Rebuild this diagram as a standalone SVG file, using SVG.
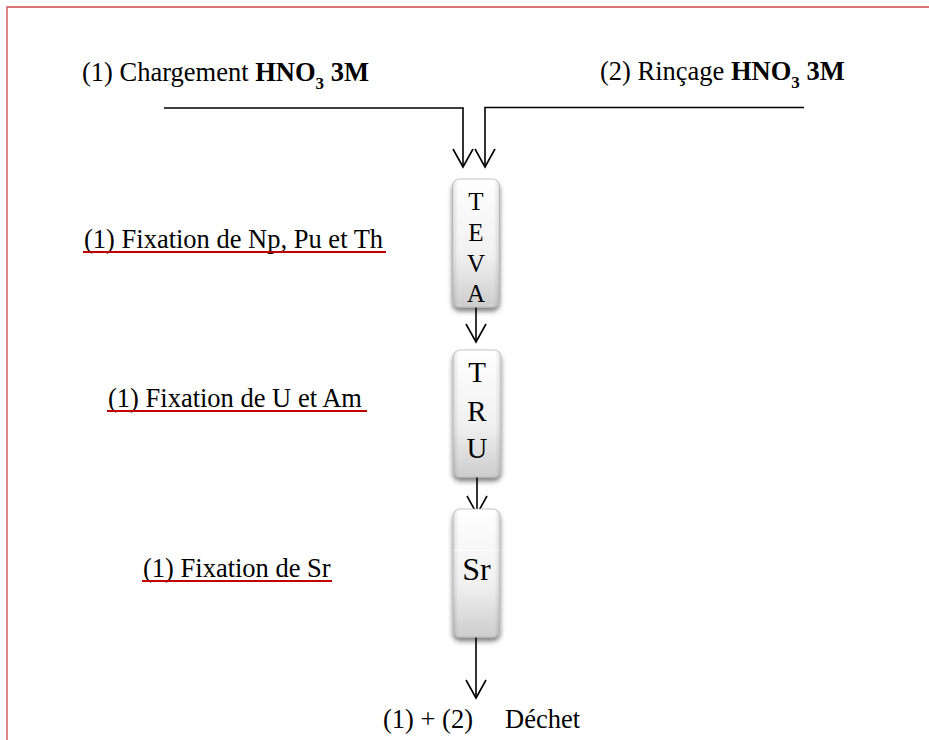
<svg xmlns="http://www.w3.org/2000/svg" width="929" height="740" viewBox="0 0 929 740">
<style>
.t{font-family:"Liberation Serif","Times New Roman",serif;fill:#000;}
.lbl{font-size:26.5px;}
.b{font-weight:bold;}
.ln{stroke:#000;stroke-width:1.6;fill:none;}
.ul{stroke:#c00000;stroke-width:2;}
.col{fill:url(#g);stroke:#b8b8b8;stroke-width:0.8;filter:url(#sh);}
.hl{fill:url(#side);}
</style>
<defs>
<linearGradient id="g" x1="0" y1="0" x2="0" y2="1">
<stop offset="0" stop-color="#ffffff"/>
<stop offset="0.6" stop-color="#f0f0f0"/>
<stop offset="1" stop-color="#cdcdcd"/>
</linearGradient>
<linearGradient id="side" x1="0" y1="0" x2="1" y2="0">
<stop offset="0" stop-color="#000" stop-opacity="0.12"/>
<stop offset="0.12" stop-color="#000" stop-opacity="0"/>
<stop offset="0.88" stop-color="#000" stop-opacity="0"/>
<stop offset="1" stop-color="#000" stop-opacity="0.12"/>
</linearGradient>
<filter id="sh" x="-30%" y="-10%" width="160%" height="125%">
<feGaussianBlur in="SourceAlpha" stdDeviation="2.5"/>
<feOffset dy="4" result="o"/>
<feComponentTransfer><feFuncA type="linear" slope="0.5"/></feComponentTransfer>
<feMerge><feMergeNode/><feMergeNode in="SourceGraphic"/></feMerge>
</filter>
<marker id="arr" markerUnits="userSpaceOnUse" markerWidth="24" markerHeight="24" viewBox="0 0 24 24" refX="21" refY="12" orient="auto">
<path d="M3,2 L21,12 L3,22" fill="none" stroke="#000" stroke-width="1.6"/>
</marker>
</defs>
<rect width="929" height="740" fill="#fff"/>
<path d="M7,740 L7,7 L929,7" fill="none" stroke="#cc4a4a" stroke-width="1.3"/>

<g id="label-charge">
<text class="t lbl" x="82" y="81">(1) Chargement <tspan class="b">HNO</tspan><tspan class="b" font-size="17" dy="8">3</tspan><tspan class="b" dy="-8"> 3M</tspan></text>
</g>
<g id="label-rincage">
<text class="t lbl" x="600" y="80">(2) Rinçage <tspan class="b">HNO</tspan><tspan class="b" font-size="17" dy="8">3</tspan><tspan class="b" dy="-8"> 3M</tspan></text>
</g>

<g id="connectors">
<path class="ln" d="M164,108 L463,108 L463,167" marker-end="url(#arr)"/>
<path class="ln" d="M804,107.5 L485,107.5 L485,167" marker-end="url(#arr)"/>
<path class="ln" d="M476,306 L476,342" marker-end="url(#arr)"/>
<path class="ln" d="M477,477 L477,514" marker-end="url(#arr)"/>
<path class="ln" d="M476,637 L476,698" marker-end="url(#arr)"/>
</g>

<g id="teva">
<rect class="col" x="452.5" y="179" width="47" height="128" rx="7"/>
<rect class="hl" x="452.5" y="179" width="47" height="128" rx="7"/>
<text class="t" font-size="25" text-anchor="middle" x="476" y="210">T</text>
<text class="t" font-size="25" text-anchor="middle" x="476" y="241">E</text>
<text class="t" font-size="25" text-anchor="middle" x="476" y="272">V</text>
<text class="t" font-size="25" text-anchor="middle" x="476" y="302">A</text>
</g>
<g id="tru">
<rect class="col" x="453" y="350" width="48" height="127" rx="7"/>
<rect class="hl" x="453" y="350" width="48" height="127" rx="7"/>
<text class="t" font-size="29" text-anchor="middle" x="477" y="382">T</text>
<text class="t" font-size="29" text-anchor="middle" x="477" y="421">R</text>
<text class="t" font-size="29" text-anchor="middle" x="477" y="458">U</text>
</g>
<g id="sr">
<rect class="col" x="453" y="509" width="47" height="128" rx="7"/>
<rect class="hl" x="453" y="509" width="47" height="128" rx="7"/>
<line x1="454" y1="550" x2="499" y2="550" stroke="#fff" stroke-width="1" opacity="0.8"/>
<text class="t" font-size="32" text-anchor="middle" x="476.5" y="580">Sr</text>
</g>

<g id="fix-np">
<text class="t lbl" x="84" y="248">(1) Fixation de Np, Pu et Th</text>
<line class="ul" x1="83" y1="252" x2="386" y2="252"/>
</g>
<g id="fix-u">
<text class="t lbl" x="108" y="407">(1) Fixation de U et Am</text>
<line class="ul" x1="107" y1="411" x2="367" y2="411"/>
</g>
<g id="fix-sr">
<text class="t lbl" x="143" y="577">(1) Fixation de Sr</text>
<line class="ul" x1="142" y1="581" x2="332" y2="581"/>
</g>

<g id="dechet">
<text class="t lbl" x="383" y="728">(1) + (2)</text>
<text class="t lbl" x="505" y="728">Déchet</text>
</g>
</svg>
